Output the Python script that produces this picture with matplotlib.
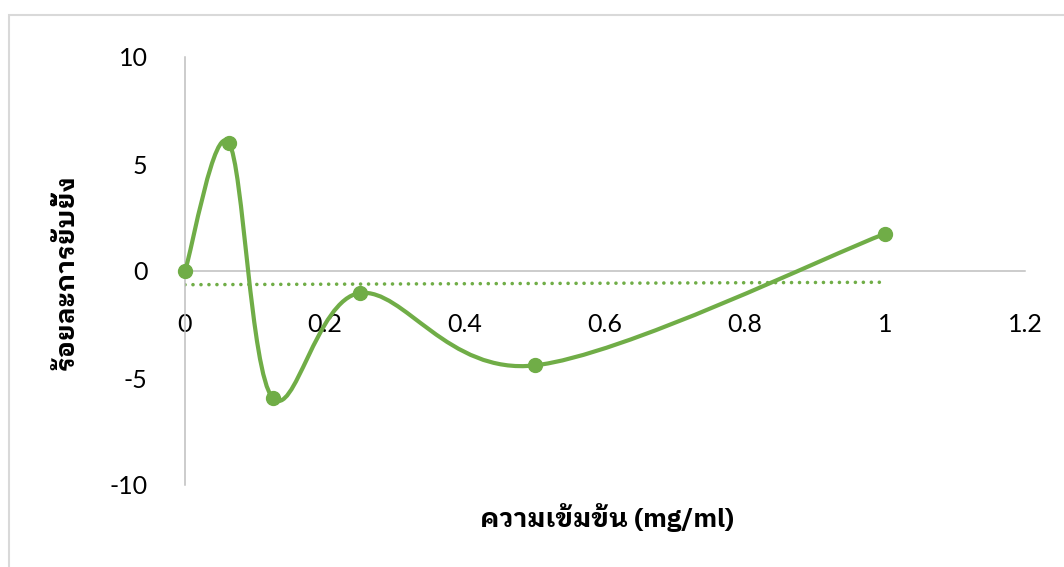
import matplotlib
matplotlib.use("Agg")
import numpy as np
import matplotlib.pyplot as plt
from matplotlib.path import Path
from matplotlib.patches import PathPatch, Rectangle

# Concentration (mg/ml) and percent inhibition
concentration = [0, 0.0625, 0.125, 0.25, 0.5, 1]
inhibition = [0, 6.0, -5.92, -1.03, -4.41, 1.74]

x_ticks = [0, 0.2, 0.4, 0.6, 0.8, 1, 1.2]
x_tick_labels = ["0", "0.2", "0.4", "0.6", "0.8", "1", "1.2"]
y_ticks = [-10, -5, 0, 5, 10]
y_tick_labels = ["-10", "-5", "0", "5", "10"]

x_title = "ความเข้มข้น (mg/ml)"
y_title = "ร้อยละการยับยั้ง"

GREEN = "#70AD47"
AXIS_GRAY = "#BFBFBF"
thai_fonts = ["IBM Plex Sans Thai Looped", "Noto Sans Thai Looped", "DejaVu Sans"]
num_fonts = ["Lato", "DejaVu Sans"]

fig = plt.figure(figsize=(10.64, 5.67), dpi=100)
ax = fig.add_axes([185 / 1064, 1 - 485 / 567, 840 / 1064, 428 / 567])
ax.set_xlim(0, 1.2)
ax.set_ylim(-10, 10)

# outer chart border
fig.patches.append(Rectangle((9 / 1064, -0.1), 1.2, 1 - 15 / 567 + 0.1,
                             transform=fig.transFigure, fill=False,
                             edgecolor="#D9D9D9", linewidth=1.5))

for side in ("top", "right"):
    ax.spines[side].set_visible(False)
ax.spines["left"].set_position(("data", 0))
ax.spines["bottom"].set_position(("data", 0))
for side in ("left", "bottom"):
    ax.spines[side].set_color(AXIS_GRAY)
    ax.spines[side].set_linewidth(1.1)

ax.set_xticks(x_ticks)
ax.set_xticklabels(x_tick_labels)
ax.set_yticks(y_ticks)
ax.set_yticklabels(y_tick_labels)
ax.tick_params(axis="both", length=0, labelsize=18, colors="#000000")
ax.tick_params(axis="x", pad=30)
ax.tick_params(axis="y", pad=27)
for lab in ax.get_xticklabels() + ax.get_yticklabels():
    lab.set_family(num_fonts)

# smoothed curve through the points (cardinal spline in display space)
fig.canvas.draw()
pts = ax.transData.transform(np.column_stack([concentration, inhibition]))
verts = [tuple(pts[0])]
codes = [Path.MOVETO]
n = len(pts)
for i in range(n - 1):
    p0 = pts[max(i - 1, 0)]
    p1 = pts[i]
    p2 = pts[i + 1]
    p3 = pts[min(i + 2, n - 1)]
    c1 = p1 + (p2 - p0) / 6.0
    c2 = p2 - (p3 - p1) / 6.0
    verts += [tuple(c1), tuple(c2), tuple(p2)]
    codes += [Path.CURVE4] * 3
data_verts = ax.transData.inverted().transform(np.array(verts))
curve = PathPatch(Path(data_verts, codes), fill=False, edgecolor=GREEN,
                  linewidth=3.0, capstyle="round", joinstyle="round", zorder=3)
ax.add_patch(curve)
ax.plot(concentration, inhibition, linestyle="none", marker="o",
        markersize=10, color=GREEN, zorder=4, clip_on=False)

# linear trend line
slope, intercept = np.polyfit(concentration, inhibition, 1)
tx = np.array([min(concentration), max(concentration)])
ax.plot(tx, slope * tx + intercept, color=GREEN, linewidth=2.6,
        linestyle=(0, (0.01, 2.2)), dash_capstyle="round", zorder=2)

ax.set_xlabel(x_title, family=thai_fonts, fontsize=19, fontweight="bold")
ax.xaxis.set_label_coords(607 / 1064, 1 - 518 / 567, transform=fig.transFigure)
ax.set_ylabel(y_title, family=thai_fonts, fontsize=19, fontweight="bold")
ax.yaxis.set_label_coords(67 / 1064, 1 - 272 / 567, transform=fig.transFigure)
ax.xaxis.label.set_va("center")
ax.yaxis.label.set_va("center")

fig.savefig("out.png", dpi=100)
